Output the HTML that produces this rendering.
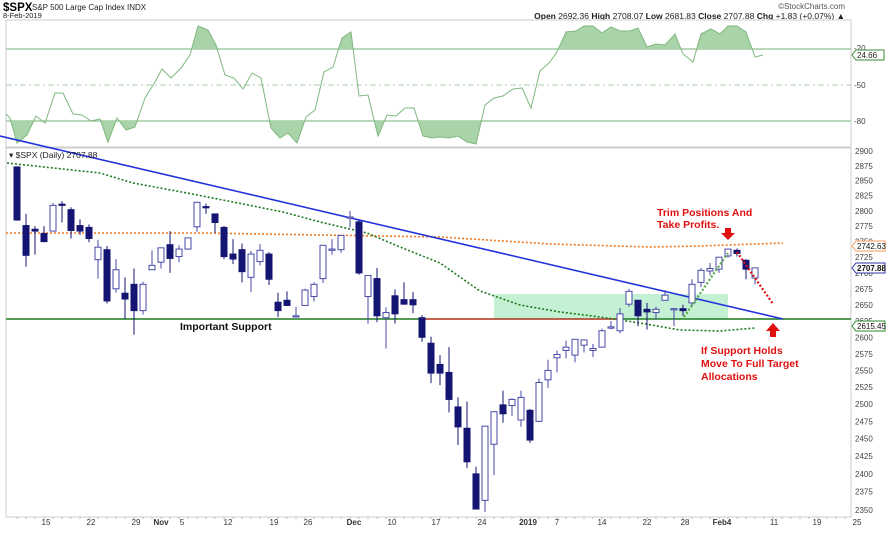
<!DOCTYPE html>
<html><head><meta charset="utf-8"><style>
body{margin:0;background:#fff;width:889px;height:537px;overflow:hidden;font-family:"Liberation Sans",Arial,sans-serif}
svg text{font-family:"Liberation Sans",Arial,sans-serif}
</style></head><body>
<svg id="s" width="889" height="537" xmlns="http://www.w3.org/2000/svg">
<rect width="889" height="537" fill="#fff"/>
<text x="3" y="11" font-size="11.5" font-weight="bold" fill="#000">$SPX</text>
<text x="32" y="10" font-size="8" fill="#222">S&amp;P 500 Large Cap Index  INDX</text>
<text x="3" y="18" font-size="7.5" fill="#222">8-Feb-2019</text>
<text x="845" y="9" font-size="8" fill="#555" text-anchor="end">©StockCharts.com</text>
<text x="845" y="19" font-size="8.5" fill="#222" text-anchor="end"><tspan font-weight="bold">Open</tspan> 2692.36 <tspan font-weight="bold">High</tspan> 2708.07 <tspan font-weight="bold">Low</tspan> 2681.83 <tspan font-weight="bold">Close</tspan> 2707.88 <tspan font-weight="bold">Chg</tspan> +1.83 (+0.07%) ▲</text>
<g id="g"></g>
</svg>
<script>
const g=document.getElementById('g');let h='';
const L=6,R=851;
h+=`<rect x="${L}" y="20" width="${R-L}" height="127" fill="none" stroke="#ccc"/>`;
h+=`<rect x="${L}" y="148" width="${R-L}" height="369" fill="none" stroke="#ccc"/>`;
h+=`<line x1="${L}" x2="${R}" y1="49" y2="49" stroke="#8fbf8f" stroke-width="1.2"/>`;
h+=`<line x1="${L}" x2="${R}" y1="121" y2="121" stroke="#8fbf8f" stroke-width="1.2"/>`;
h+=`<line x1="${L}" x2="${R}" y1="85" y2="85" stroke="#a8cfa8" stroke-dasharray="6,3,2,3"/>`;
const W=[[6,114],[10,118],[17,143],[27,135],[36,116],[45,123],[55,93],[63,93],[73,114],[82,115],[91,121],[100,119],[108,142],[117,118],[126,130],[135,127],[145,98],[155,82],[162,69],[171,78],[181,68],[190,55],[198,26],[208,30],[216,45],[225,75],[234,78],[243,89],[252,73],[261,78],[271,128],[280,138],[288,133],[297,143],[306,117],[315,110],[324,72],[333,67],[342,38],[351,32],[359,96],[368,95],[378,136],[387,115],[396,116],[405,108],[414,108],[423,136],[432,138],[440,137],[449,138],[458,136],[467,142],[476,144],[485,105],[494,98],[503,96],[513,89],[522,88],[531,108],[540,71],[549,63],[557,52],[566,32],[576,31],[584,26],[593,26],[602,33],[611,27],[620,31],[630,31],[638,28],[647,47],[656,44],[665,45],[675,34],[683,54],[693,62],[701,34],[711,29],[720,34],[728,26],[737,26],[746,32],[755,57],[763,55]];
const wp=W.map(p=>p.join(',')).join(' ');
h+=`<defs><clipPath id="ca"><rect x="0" y="0" width="889" height="49"/></clipPath><clipPath id="cb"><rect x="0" y="121" width="889" height="30"/></clipPath></defs>`;
h+=`<polygon points="${W[0][0]},49 ${wp} ${W[W.length-1][0]},49" fill="#a9d3a9" clip-path="url(#ca)"/>`;
h+=`<polygon points="${W[0][0]},121 ${wp} ${W[W.length-1][0]},121" fill="#a9d3a9" clip-path="url(#cb)"/>`;
h+=`<polyline points="${wp}" fill="none" stroke="#7fb77f" stroke-width="1"/>`;
h+=`<text x="854" y="51" font-size="8" fill="#444">-20</text><text x="854" y="88" font-size="8" fill="#444">-50</text><text x="854" y="124" font-size="8" fill="#444">-80</text>`;
h+=`<path d="M852,55 l4,-5 h28 v10 h-28z" fill="#fff" stroke="#3a8a3a"/><text x="857" y="58" font-size="8" fill="#222">24.66</text>`;
const Y=p=>151+1706*Math.log(2900/p);
for(let p=2350;p<=2900;p+=25){h+=`<text x="855" y="${Y(p)+3}" font-size="8" fill="#444">${p}</text>`;}
h+=`<rect x="494" y="294" width="234" height="25" fill="#b5ecc9" opacity="0.8"/>`;
h+=`<line x1="${L}" x2="${R}" y1="319" y2="319" stroke="#1d7a1d" stroke-width="1.5"/>`;
h+=`<line x1="423" x2="617" y1="319" y2="319" stroke="#e03030" stroke-width="1.2"/>`;
h+=`<polyline points="6,233 200,233 440,237 550,244 650,247 700,246 783,243" fill="none" stroke="#f07a20" stroke-width="1.6" stroke-dasharray="2,2"/>`;
h+=`<polyline points="7,163 100,173 133,183 187,193 233,202 283,212 320,222 367,233 400,247 440,263 480,291 520,305 560,312 600,317 640,323 680,330 720,331 755,328" fill="none" stroke="#1e7a1e" stroke-width="1.6" stroke-dasharray="2,2"/>`;
h+=`<line x1="0" y1="136" x2="783" y2="319" stroke="#2233dd" stroke-width="1.6"/>`;
const D=[[2873,2874,2784,2785],[2776,2795,2710,2728],[2770,2775,2729,2767],[2763,2775,2749,2750],[2767,2813,2767,2809],[2811,2816,2781,2809],[2802,2806,2755,2768],[2776,2786,2761,2767],[2773,2778,2749,2755],[2721,2753,2691,2741],[2737,2743,2652,2656],[2675,2722,2669,2705],[2668,2693,2628,2659],[2682,2707,2604,2641],[2641,2686,2635,2682],[2705,2736,2705,2712],[2717,2741,2707,2740],[2745,2767,2700,2723],[2726,2744,2717,2738],[2738,2756,2737,2756],[2774,2815,2766,2814],[2807,2812,2795,2806],[2795,2795,2764,2781],[2773,2775,2722,2726],[2730,2754,2714,2722],[2737,2747,2685,2702],[2693,2735,2670,2730],[2718,2746,2712,2736],[2730,2733,2681,2690],[2654,2669,2631,2641],[2657,2671,2649,2649],[2633,2647,2631,2633],[2649,2675,2649,2673],[2663,2685,2655,2682],[2691,2744,2684,2744],[2736,2754,2729,2738],[2737,2760,2732,2760],[2790,2800,2773,2790],[2782,2785,2697,2700],[2663,2696,2621,2696],[2691,2708,2623,2633],[2630,2646,2583,2638],[2664,2674,2621,2636],[2658,2685,2650,2651],[2658,2670,2637,2650],[2630,2634,2593,2600],[2591,2601,2531,2546],[2559,2573,2528,2546],[2547,2585,2488,2507],[2496,2510,2441,2467],[2465,2504,2408,2417],[2400,2410,2351,2351],[2363,2468,2347,2468],[2442,2489,2398,2489],[2499,2520,2473,2486],[2498,2509,2483,2507],[2477,2520,2467,2510],[2491,2493,2444,2448],[2475,2538,2474,2532],[2536,2566,2524,2550],[2569,2580,2547,2574],[2580,2595,2568,2585],[2573,2597,2562,2597],[2588,2596,2577,2596],[2580,2590,2570,2583],[2585,2613,2585,2610],[2614,2625,2612,2616],[2610,2645,2606,2636],[2651,2675,2647,2671],[2657,2657,2617,2633],[2643,2653,2612,2639],[2638,2647,2627,2643],[2657,2673,2657,2665],[2644,2645,2617,2644],[2644,2650,2633,2641],[2653,2690,2648,2682],[2685,2708,2678,2704],[2703,2716,2696,2707],[2706,2725,2700,2725],[2727,2738,2724,2738],[2736,2739,2726,2731],[2720,2722,2690,2706],[2692,2708,2682,2708]];
D.forEach((d,i)=>{const x=17+i*9,[o,hi,lo,c]=d;const up=c>=o;const col=up?'#4a4aa8':'#141473';
h+=`<line x1="${x}" x2="${x}" y1="${Y(hi)}" y2="${Y(lo)}" stroke="${col}" stroke-width="1"/>`;
const t=Y(Math.max(o,c)),b=Y(Math.min(o,c));const hh=Math.max(b-t,1.2);
h+=`<rect x="${x-3}" y="${t}" width="6" height="${hh}" fill="${up?'#fff':'#141473'}" stroke="${col}" stroke-width="1"/>`;});
h+=`<line x1="684" y1="317" x2="728" y2="253" stroke="#55aa44" stroke-width="2.2" stroke-dasharray="2,2"/>`;
h+=`<line x1="737" y1="252" x2="773" y2="304" stroke="#e01010" stroke-width="2.2" stroke-dasharray="2,2"/>`;
h+=`<path d="M725,228 h6 v5 h4 l-7,7 l-7,-7 h4z" fill="#e01010"/>`;
h+=`<path d="M770,337 h6 v-6 h4 l-7,-8 l-7,8 h4z" fill="#e01010"/>`;
h+=`<text x="657" y="216" font-size="10.5" font-weight="bold" fill="#e01010">Trim Positions And</text>`;
h+=`<text x="657" y="228" font-size="10.5" font-weight="bold" fill="#e01010">Take Profits.</text>`;
h+=`<text x="701" y="354" font-size="10.5" font-weight="bold" fill="#e01010">If Support Holds</text>`;
h+=`<text x="701" y="367" font-size="10.5" font-weight="bold" fill="#e01010">Move To Full Target</text>`;
h+=`<text x="701" y="380" font-size="10.5" font-weight="bold" fill="#e01010">Allocations</text>`;
h+=`<text x="180" y="330" font-size="10.5" font-weight="bold" fill="#111">Important Support</text>`;
h+=`<text x="9" y="158" font-size="8.5" fill="#222">▾ $SPX (Daily) 2707.88</text>`;
[[246,'2742.63','#f39a5a'],[268,'2707.88','#3333aa'],[326,'2615.45','#2a8a2a']].forEach(([y,t,c])=>{h+=`<path d="M852,${y} l4,-5 h29 v10 h-29z" fill="#fff" stroke="${c}"/><text x="857" y="${y+3}" font-size="8" fill="#111" ${t=='2707.88'?'font-weight="bold"':''}>${t}</text>`;});
[[46,'15'],[91,'22'],[136,'29'],[161,'Nov',1],[182,'5'],[228,'12'],[274,'19'],[308,'26'],[354,'Dec',1],[392,'10'],[436,'17'],[482,'24'],[528,'2019',1],[557,'7'],[602,'14'],[647,'22'],[685,'28'],[722,'Feb4',1],[774,'11'],[817,'19'],[857,'25']].forEach(([x,t,b])=>{h+=`<text x="${x}" y="525" font-size="8" fill="#333" text-anchor="middle" ${b?'font-weight="bold"':''}>${t}</text>`;});
for(let i=0;i<95;i++){const x=17+i*9;if(x<R)h+=`<line x1="${x}" x2="${x}" y1="517" y2="519" stroke="#bbb"/>`;}
g.innerHTML=h;
</script>
</body></html>
